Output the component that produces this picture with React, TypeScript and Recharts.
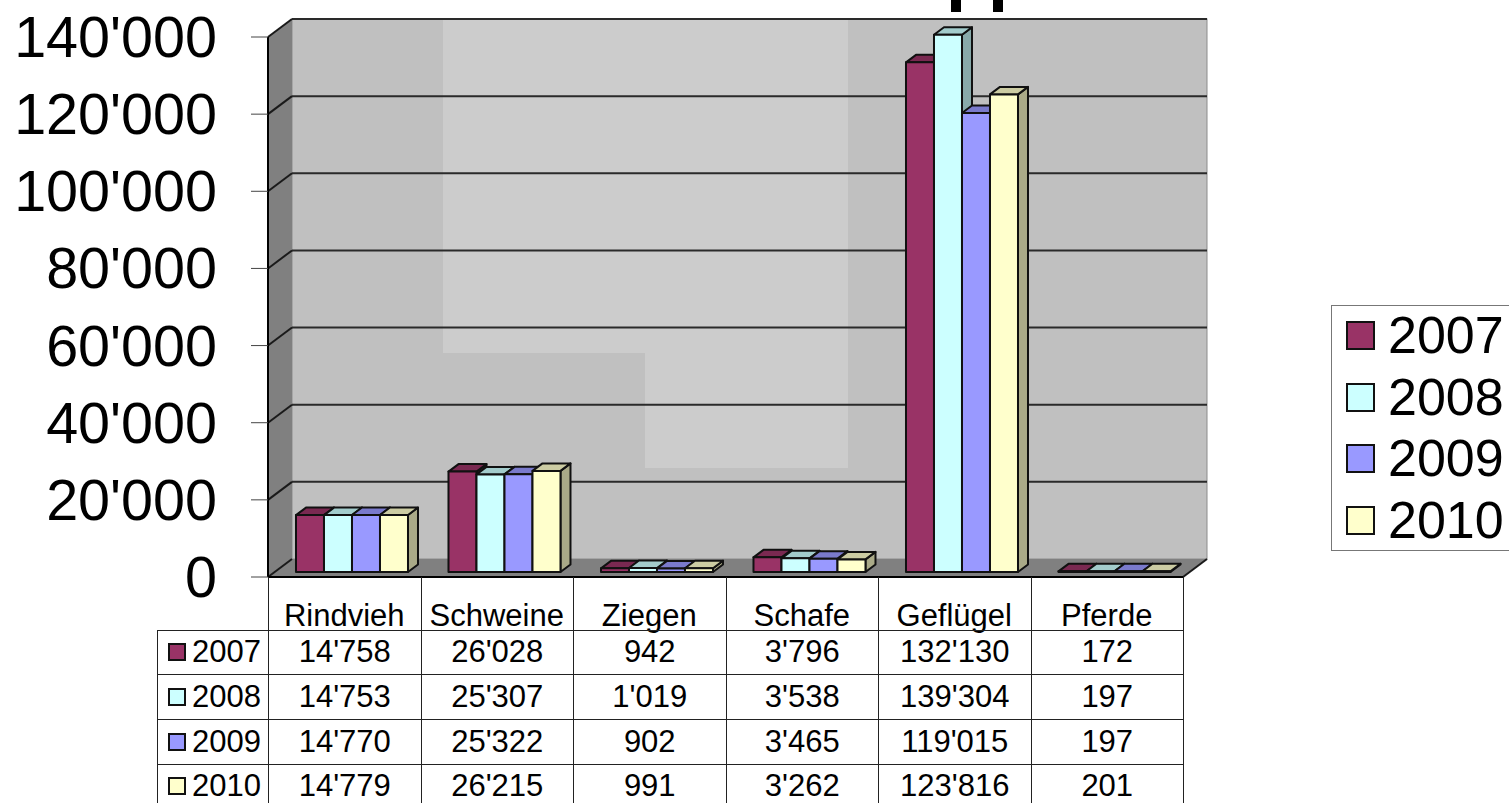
import React from "react";
import { BarChart, Bar, XAxis, YAxis, CartesianGrid, Legend } from "recharts";

const categories = ["Rindvieh", "Schweine", "Ziegen", "Schafe", "Geflügel", "Pferde"];
const years = ["2007", "2008", "2009", "2010"];
const values2007 = [14758, 26028, 942, 3796, 132130, 172];
const values2008 = [14753, 25307, 1019, 3538, 139304, 197];
const values2009 = [14770, 25322, 902, 3465, 119015, 197];
const values2010 = [14779, 26215, 991, 3262, 123816, 201];
const yTicks = [0, 20000, 40000, 60000, 80000, 100000, 120000, 140000];
const series = [values2007, values2008, values2009, values2010];

// colour per year: front, top, side
const colors = ["#993366", "#CCFFFF", "#9999FF", "#FFFFCC"];
const topColors = ["#7A2951", "#A3CCCC", "#7A7ACC", "#CCCCA3"];
const sideColors = ["#662244", "#88AAAA", "#6666AA", "#AAAA88"];

const W = 1509;
const H = 803;
const PLOT = { left: 268, right: 1183, top: 37, bottom: 577 };
const WALL_DX = 24;
const WALL_DY = -18;

const chartData = categories.map((name, i) => ({
  name,
  y2007: values2007[i],
  y2008: values2008[i],
  y2009: values2009[i],
  y2010: values2010[i],
}));

const fmt = (v: number) => String(v).replace(/\B(?=(\d{3})+$)/g, "'");

const pts = (list: number[][]) => list.map((p) => p.join(",")).join(" ");

// the box behind the bars, drawn together with the first grid line
const Walls = () => {
  const { left, right, top, bottom } = PLOT;
  const backL = left + WALL_DX;
  const backR = right + WALL_DX;
  const backT = top + WALL_DY;
  const backB = bottom + WALL_DY;
  return (
    <g>
      <rect x={backL} y={backT} width={backR - backL} height={backB - backT} fill="#C0C0C0" stroke="#8c8c8c" strokeWidth={1} />
      {/* lighter patches on the wall */}
      <polygon
        points={pts([[443, backT], [848, backT], [848, 468], [645, 468], [645, 353], [443, 353]])}
        fill="#CCCCCC"
      />
      <polygon points={pts([[left, top], [backL, backT], [backL, backB], [left, bottom]])} fill="#808080" />
      <polygon points={pts([[left, bottom], [backL, backB], [backR, backB], [right, bottom]])} fill="#808080" />
      <line x1={right} x2={backR} y1={bottom} y2={backB} stroke="#1a1a1a" strokeWidth={2} />
    </g>
  );
};

const GridLine = (props: any) => {
  const { x1, x2, y1, index } = props;
  const isFloor = Math.abs(y1 - PLOT.bottom) < 1;
  return (
    <g key={index}>
      {index === 0 && <Walls />}
      {!isFloor && (
        <line x1={x1 + WALL_DX} x2={x2 + WALL_DX} y1={y1 + WALL_DY} y2={y1 + WALL_DY} stroke="#2a2a2a" strokeWidth={2} />
      )}
      <line x1={x1} x2={x1 + WALL_DX} y1={y1} y2={y1 + WALL_DY} stroke="#1a1a1a" strokeWidth={2} />
    </g>
  );
};

const Bar3D = (idx: number) => (props: any) => {
  const { x, y, width, height } = props;
  const dx = 10;
  const dy = -7.5;
  const left = x + 7.25;
  const right = left + width;
  const topY = y - 5;
  const bottom = topY + height;
  return (
    <g stroke="#111" strokeWidth={2} strokeLinejoin="round">
      <polygon
        points={pts([[right, topY], [right + dx, topY + dy], [right + dx, bottom + dy], [right, bottom]])}
        fill={sideColors[idx]}
      />
      <polygon
        points={pts([[left, topY], [left + dx, topY + dy], [right + dx, topY + dy], [right, topY]])}
        fill={topColors[idx]}
      />
      <rect x={left} y={topY} width={width} height={height} fill={colors[idx]} />
    </g>
  );
};

const YTick = (props: any) => {
  const { x, y, payload } = props;
  return (
    <text x={x} y={y + 20} textAnchor="end" fontFamily="Liberation Sans" fontSize={57.5} fill="#000">
      {fmt(payload.value)}
    </text>
  );
};

const LegendBox = () => (
  <div
    style={{
      width: 190,
      height: 246,
      border: "1px solid #777",
      boxSizing: "border-box",
      fontFamily: "Liberation Sans",
      fontSize: 52,
      lineHeight: "61.5px",
      color: "#000",
      background: "#fff",
    }}
  >
    {years.map((yr, i) => (
      <div key={yr} style={{ display: "flex", alignItems: "center", height: 61.5, marginTop: i === 0 ? -1 : 0 }}>
        <span
          style={{
            width: 29,
            height: 29,
            marginLeft: 14,
            marginRight: 13,
            boxSizing: "border-box",
            border: "2.5px solid #111",
            background: colors[i],
          }}
        />
        {yr}
      </div>
    ))}
  </div>
);

const cell = { border: "1px solid #222", padding: 0, textAlign: "center" as const };

const DataTable = () => (
  <table
    style={{
      position: "absolute",
      left: 157,
      top: 577,
      width: 1026,
      borderCollapse: "collapse",
      tableLayout: "fixed",
      fontFamily: "Liberation Sans",
      fontSize: 31,
      color: "#000",
    }}
  >
    <colgroup>
      <col style={{ width: 111 }} />
      {categories.map((c) => (
        <col key={c} style={{ width: 152.5 }} />
      ))}
    </colgroup>
    <tbody>
      <tr style={{ height: 53 }}>
        <td style={{ padding: 0 }} />
        {categories.map((c) => (
          <td key={c} style={{ ...cell, borderTop: "none" }} />
        ))}
      </tr>
      {series.map((vals, i) => (
        <tr key={years[i]} style={{ height: 44.7 }}>
          <td style={{ ...cell, textAlign: "left" }}>
            <div style={{ display: "flex", alignItems: "center" }}>
              <span
                style={{
                  width: 18,
                  height: 18,
                  marginLeft: 10,
                  marginRight: 6,
                  boxSizing: "border-box",
                  border: "2.5px solid #111",
                  background: colors[i],
                }}
              />
              {years[i]}
            </div>
          </td>
          {vals.map((v, j) => (
            <td key={j} style={cell}>
              {fmt(v)}
            </td>
          ))}
        </tr>
      ))}
    </tbody>
  </table>
);

export default function App() {
  return (
    <div style={{ position: "absolute", left: 0, top: 0, width: W, height: H, overflow: "hidden", background: "#fff" }}>
      {/* cut off title letters at the top edge */}
      <div style={{ position: "absolute", left: 951, top: 0, width: 10, height: 12, background: "#000" }} />
      <div style={{ position: "absolute", left: 993, top: 0, width: 10, height: 12, background: "#000" }} />
      <BarChart
        width={W}
        height={H}
        data={chartData}
        barCategoryGap="13.6%"
        barGap={0}
        margin={{ top: PLOT.top, right: W - PLOT.right, bottom: 0, left: 0 }}
      >
        <CartesianGrid vertical={false} horizontal={GridLine as any} />
        <XAxis
          dataKey="name"
          interval={0}
          height={H - PLOT.bottom}
          axisLine={{ stroke: "#000", strokeWidth: 2 }}
          tickLine={false}
          tickMargin={21}
          tick={{ fontFamily: "Liberation Sans", fontSize: 31, fill: "#000" }}
        />
        <YAxis
          width={PLOT.left}
          domain={[0, 140000]}
          ticks={yTicks}
          tickSize={17}
          tickMargin={34}
          axisLine={{ stroke: "#000", strokeWidth: 2 }}
          tickLine={{ stroke: "#444" }}
          tick={<YTick />}
        />
        <Legend
          layout="horizontal"
          verticalAlign="middle"
          content={<LegendBox />}
          wrapperStyle={{ left: 1331, top: 305, width: 190, height: 246, bottom: "auto", right: "auto" }}
        />
        <Bar dataKey="y2007" name="2007" fill={colors[0]} shape={Bar3D(0)} isAnimationActive={false} />
        <Bar dataKey="y2008" name="2008" fill={colors[1]} shape={Bar3D(1)} isAnimationActive={false} />
        <Bar dataKey="y2009" name="2009" fill={colors[2]} shape={Bar3D(2)} isAnimationActive={false} />
        <Bar dataKey="y2010" name="2010" fill={colors[3]} shape={Bar3D(3)} isAnimationActive={false} />
      </BarChart>
      <DataTable />
    </div>
  );
}
